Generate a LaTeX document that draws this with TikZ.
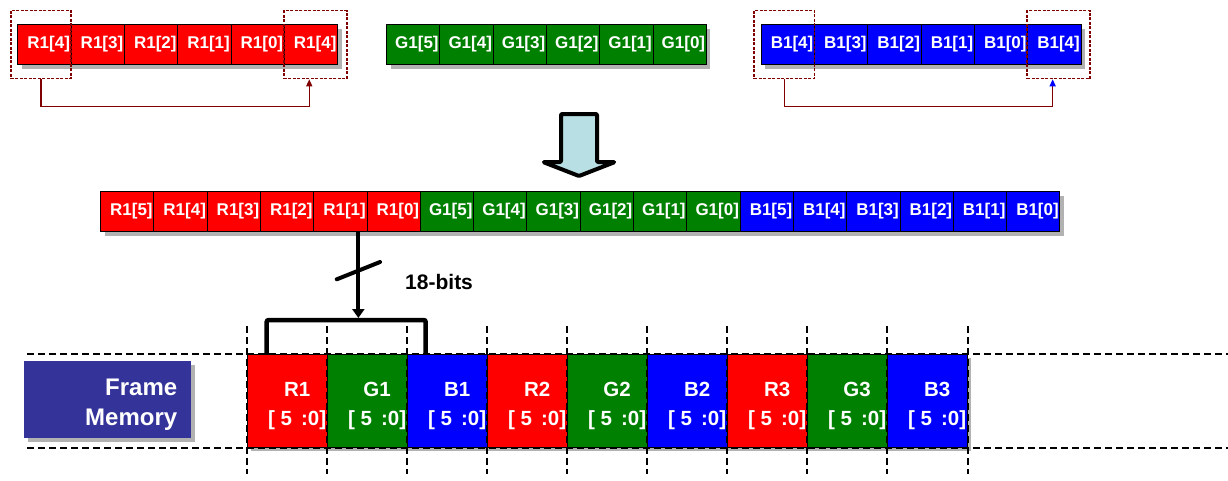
\documentclass[tikz,border=0pt]{standalone}
\usepackage{fontspec}
\setmainfont{Liberation Sans}
\usetikzlibrary{arrows.meta,shadows}

\definecolor{rgbred}{RGB}{255,0,0}
\definecolor{rgbgreen}{RGB}{0,128,0}
\definecolor{rgbblue}{RGB}{0,0,255}
\definecolor{wrapred}{RGB}{128,0,0}
\definecolor{memblue}{RGB}{51,51,153}
\definecolor{hollowfill}{RGB}{184,223,227}

\tikzset{
  cellshadow/.style={general shadow={fill=black!30, shadow xshift=4pt, shadow yshift=-4pt}},
  bitcell/.style={draw=black, line width=1pt, anchor=north west, cellshadow,
    minimum width=53.3pt, minimum height=40pt, inner xsep=1pt, inner ysep=0pt,
    text width=51pt, align=right, text=white,
    font=\bfseries\fontsize{17}{18}\selectfont},
  selbox/.style={draw=wrapred, line width=1.6pt, dash pattern=on 3pt off 1.5pt,
    minimum height=68pt, inner sep=0pt},
  wrap/.style={draw=wrapred, line width=1.4pt},
  hollow/.style={draw=black, line width=4pt, line join=round, rounded corners=1pt, fill=hollowfill},
  bus/.style={line width=4pt, -{Triangle[length=9pt,width=12pt]}, shorten >=2pt},
  slash/.style={line width=4pt, line cap=round},
  bracket/.style={line width=4.5pt, rounded corners=2pt},
  buslabel/.style={anchor=base west, font=\bfseries\fontsize{21}{24}\selectfont},
  membox/.style={anchor=north west, fill=memblue, cellshadow,
    minimum width=167pt, minimum height=77pt, inner sep=0pt},
  memlabel/.style={anchor=east, inner sep=0pt, align=right, text=white,
    font=\bfseries\fontsize{24}{29.5}\selectfont},
  memcell/.style={draw=black, line width=0.8pt, anchor=north west, cellshadow,
    minimum width=80pt, minimum height=93pt, inner sep=0pt},
  memtext/.style={align=center, text=white, font=\bfseries\fontsize{20.5}{28.5}\selectfont},
  memdash/.style={line width=2pt, dash pattern=on 7pt off 4pt}
}

\begin{document}
\begin{tikzpicture}[x=1pt, y=-1pt]
  \useasboundingbox (0,0) rectangle (1228,480);

  \foreach \t [count=\i] in {R1[4],R1[3],R1[2],R1[1],R1[0],R1[4]}
    \node[bitcell, fill=rgbred] (rtop\i) at ({17.3+53.3*(\i-1)},24) {\t};
  \foreach \t [count=\i] in {G1[5],G1[4],G1[3],G1[2],G1[1],G1[0]}
    \node[bitcell, fill=rgbgreen] (gtop\i) at ({386+53.3*(\i-1)},24) {\t};
  \foreach \t [count=\i] in {B1[4],B1[3],B1[2],B1[1],B1[0],B1[4]}
    \node[bitcell, fill=rgbblue] (btop\i) at ({760.7+53.3*(\i-1)},24) {\t};

  \node[selbox, minimum width=60.3pt] (rselL) at ([xshift=-3.5pt]rtop1.center) {};
  \node[selbox, minimum width=63pt] (rselR) at ([xshift=4.3pt]rtop6.center) {};
  \node[selbox, minimum width=60.3pt] (bselL) at ([xshift=-3.5pt]btop1.center) {};
  \node[selbox, minimum width=63pt] (bselR) at ([xshift=4.3pt]btop6.center) {};
  \draw[wrap, -{Triangle[length=7pt,width=6pt]}] (rselL.south) -- ++(0,27) -| ([xshift=-6pt]rselR.south);
  \draw[wrap, -{Triangle[length=7pt,width=6pt,color=blue]}] (bselL.south) -- ++(0,27) -| ([xshift=-6pt]bselR.south);

  \draw[hollow] (561,114) -- (597,114) -- (597,162) -- (615,162) -- (579,176)
    -- (543,162) -- (561,162) -- cycle;

  \foreach \ch/\c [count=\k] in {R/rgbred,G/rgbgreen,B/rgbblue}
    \foreach \b in {5,4,3,2,1,0}{
      \pgfmathtruncatemacro{\i}{6*(\k-1)+6-\b}
      \node[bitcell, fill=\c] (mid\i) at ({100+53.3*(\i-1)},191) {\ch1[\b]};
    }

  \node[membox] (fmbox) at (24,361) {};
  \node[memlabel] (fmlabel) at ([xshift=-14pt,yshift=-5pt]fmbox.east) {Frame\\Memory};
  \foreach \t/\c [count=\i] in {R1/rgbred,G1/rgbgreen,B1/rgbblue,R2/rgbred,G2/rgbgreen,
      B2/rgbblue,R3/rgbred,G3/rgbgreen,B3/rgbblue}{
    \node[memcell, fill=\c] (fm\i) at ({246.7+80*(\i-1)},354) {};
    \node[memtext] (fmt\i) at ([xshift=10pt,yshift=-5pt]fm\i.center) {\t\\{}[ 5 \,:0]};
  }

  \coordinate (edgeR) at (1228,0);
  \draw[memdash] ([xshift=3pt]fmbox.west |- fm1.north) -- (edgeR |- fm1.north);
  \draw[memdash] ([xshift=3pt]fmbox.west |- fm1.south) -- (edgeR |- fm1.south);
  \foreach \i in {1,...,9}
    \draw[memdash] ([yshift=28pt]fm\i.north west) -- ([yshift=-26pt]fm\i.south west);
  \draw[memdash] ([yshift=28pt]fm9.north east) -- ([yshift=-26pt]fm9.south east);

  \coordinate (busend) at ([xshift=18pt]mid5.south |- 0,320);
  \draw[bracket] ([xshift=20pt]fm1.north west) |- (busend) -| ([xshift=19pt]fm3.north west);
  \draw[bus] ([xshift=18pt]mid5.south) -- (busend);
  \draw[slash] ([xshift=18pt,yshift=-38.7pt]mid5.south) ++(-21.6,8.6) -- ++(43.3,-17.3);
  \node[buslabel] (bits) at (401.7,289) {18-bits};
\end{tikzpicture}
\end{document}
